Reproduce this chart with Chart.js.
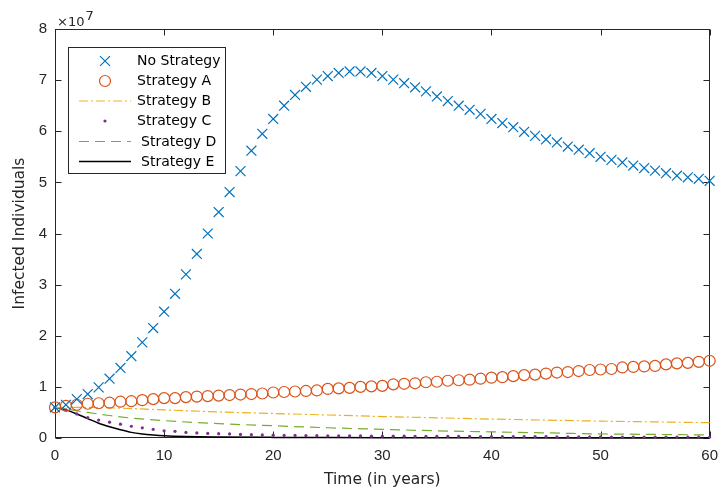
<!DOCTYPE html>
<html>
<head>
<meta charset="utf-8">
<script src="https://cdn.jsdelivr.net/npm/chart.js@4"></script>
<style>
html, body { margin: 0; padding: 0; background: #fff; }
</style>
</head>
<body>
<canvas id="chart" width="727" height="491"></canvas>
<script>
// ====== Data (values in units of 10^7 individuals) ======
const years = [0,1,2,3,4,5,6,7,8,9,10,11,12,13,14,15,16,17,18,19,20,21,22,23,24,25,26,27,28,29,30,
  31,32,33,34,35,36,37,38,39,40,41,42,43,44,45,46,47,48,49,50,51,52,53,54,55,56,57,58,59,60];

const noStrategy = [0.60,0.65,0.76,0.86,0.99,1.16,1.37,1.60,1.87,2.15,2.47,2.82,3.20,3.60,4.00,4.42,4.81,5.22,5.62,5.95,6.24,
  6.50,6.71,6.87,7.01,7.08,7.14,7.17,7.17,7.14,7.08,7.01,6.94,6.86,6.78,6.68,6.59,6.50,6.42,6.34,6.24,
  6.16,6.08,5.99,5.91,5.84,5.78,5.70,5.64,5.57,5.50,5.44,5.39,5.33,5.28,5.23,5.18,5.13,5.10,5.07,5.03];

const strategyA = [0.60,0.63,0.65,0.67,0.68,0.69,0.71,0.72,0.74,0.76,0.78,0.78,0.80,0.81,0.82,0.83,0.84,0.85,0.86,0.87,0.89,
  0.90,0.91,0.92,0.93,0.96,0.97,0.98,1.00,1.01,1.02,1.05,1.06,1.07,1.09,1.10,1.12,1.13,1.14,1.16,1.18,
  1.19,1.21,1.23,1.24,1.26,1.28,1.29,1.31,1.33,1.34,1.35,1.38,1.39,1.40,1.41,1.44,1.46,1.47,1.49,1.51];

const strategyC = [0.60,0.55,0.47,0.40,0.35,0.31,0.27,0.23,0.20,0.17,0.14,0.13,0.11,0.10,0.09,0.085,0.08,0.07,0.065,0.06,0.055,
  0.05,0.05,0.045,0.045,0.04,0.04,0.04,0.04,0.035,0.035,0.035,0.035,0.03,0.03,0.03,0.03,0.03,0.03,0.025,0.025,
  0.025,0.025,0.025,0.025,0.025,0.022,0.022,0.022,0.022,0.022,0.02,0.02,0.02,0.02,0.02,0.02,0.02,0.02,0.02,0.02];

const yearsB = [0,2,5,10,15,20,25,30,35,40,45,50,55,60];
const strategyB = [0.60,0.60,0.59,0.55,0.51,0.48,0.45,0.42,0.395,0.37,0.35,0.33,0.315,0.30];

const yearsD = [0,1,2,3,5,7,10,15,20,25,30,35,40,45,50,55,60];
const strategyD = [0.60,0.57,0.53,0.50,0.44,0.39,0.34,0.28,0.24,0.20,0.17,0.14,0.12,0.10,0.08,0.07,0.06];

const yearsE = [0,1,2,3,4,5,6,7,8,9,10,12,15,20,25,30,40,50,60];
const strategyE = [0.60,0.55,0.47,0.38,0.29,0.22,0.16,0.11,0.08,0.06,0.045,0.03,0.02,0.012,0.008,0.005,0.003,0.002,0.001];

const xTicks = [0,10,20,30,40,50,60];
const yTicks = [0,1,2,3,4,5,6,7,8];

const FONT = '"Liberation Sans", Arial, sans-serif';
const WIDE = '"DejaVu Sans", sans-serif';
const AXIS_COLOR = '#262626';

const pts = (xs, ys) => xs.map((x, i) => ({ x: x, y: ys[i] }));

// ====== Box + inward ticks, exponent label ======
const boxPlugin = {
  id: 'matlabBox',
  beforeDatasetsDraw(chart) {
    const { ctx, chartArea: a, scales } = chart;
    const L = Math.round(a.left) + 0.5, R = Math.round(a.right) - 0.5;
    const T = Math.round(a.top) + 0.5, B = Math.round(a.bottom) - 0.5;
    ctx.save();
    ctx.strokeStyle = AXIS_COLOR;
    ctx.lineWidth = 1;
    ctx.strokeRect(L, T, R - L, B - T);
    ctx.beginPath();
    xTicks.forEach(v => {
      const px = Math.round(scales.x.getPixelForValue(v)) + 0.5;
      ctx.moveTo(px, B); ctx.lineTo(px, B - 6);
      ctx.moveTo(px, T); ctx.lineTo(px, T + 6);
    });
    yTicks.forEach(v => {
      const py = Math.round(scales.y.getPixelForValue(v)) + 0.5;
      ctx.moveTo(L, py); ctx.lineTo(L + 6, py);
      ctx.moveTo(R, py); ctx.lineTo(R - 6, py);
    });
    ctx.stroke();
    // x10^7
    ctx.fillStyle = AXIS_COLOR;
    ctx.textBaseline = 'alphabetic';
    ctx.font = '13px ' + WIDE;
    const base = '\u00d710';
    ctx.fillText(base, a.left + 2, 26);
    const bw = ctx.measureText(base).width;
    ctx.font = '13px ' + WIDE;
    ctx.fillText('7', a.left + 3 + bw, 20);
    ctx.restore();
  }
};

// ====== Legend box inside plot ======
const legendPlugin = {
  id: 'matlabLegend',
  afterDraw(chart) {
    const ctx = chart.ctx;
    const x0 = 68.5, y0 = 47.5, w = 157, h = 126;
    const rows = [61, 81, 101, 121, 141.5, 161.5];
    ctx.save();
    ctx.fillStyle = '#fff';
    ctx.fillRect(x0, y0, w, h);
    ctx.strokeStyle = AXIS_COLOR;
    ctx.lineWidth = 1;
    ctx.strokeRect(x0, y0, w, h);
    chart.data.datasets.forEach((ds, i) => {
      const y = rows[i];
      const cx = 105;
      ctx.setLineDash([]);
      if (ds.showLine === false) {
        if (ds.pointStyle === 'crossRot') {
          const r = ds.pointRadius * 0.7071;
          ctx.strokeStyle = ds.borderColor;
          ctx.lineWidth = ds.pointBorderWidth;
          ctx.beginPath();
          ctx.moveTo(cx - r, y - r); ctx.lineTo(cx + r, y + r);
          ctx.moveTo(cx - r, y + r); ctx.lineTo(cx + r, y - r);
          ctx.stroke();
        } else {
          ctx.beginPath();
          ctx.arc(cx, y, ds.pointRadius, 0, Math.PI * 2);
          if (ds.legendFill) {
            ctx.fillStyle = ds.pointBackgroundColor;
            ctx.fill();
          } else {
            ctx.strokeStyle = ds.borderColor;
            ctx.lineWidth = ds.pointBorderWidth;
            ctx.stroke();
          }
        }
      } else {
        ctx.strokeStyle = ds.borderColor;
        ctx.lineWidth = ds.borderWidth;
        ctx.setLineDash(ds.borderDash || []);
        ctx.beginPath();
        ctx.moveTo(79, y); ctx.lineTo(131, y);
        ctx.stroke();
      }
      ctx.setLineDash([]);
      ctx.fillStyle = '#000';
      ctx.font = '14px ' + WIDE;
      ctx.textBaseline = 'middle';
      ctx.fillText(ds.label, i >= 4 ? 141 : 137, y + 0.5);
    });
    ctx.restore();
  }
};

new Chart(document.getElementById('chart'), {
  type: 'line',
  data: {
    datasets: [
      {
        label: 'No Strategy', data: pts(years, noStrategy), showLine: false,
        pointStyle: 'crossRot', pointRadius: 7, pointBorderWidth: 1.2,
        borderColor: '#0072BD', pointBorderColor: '#0072BD', backgroundColor: '#0072BD'
      },
      {
        label: 'Strategy A', data: pts(years, strategyA), showLine: false,
        pointStyle: 'circle', pointRadius: 5.5, pointBorderWidth: 1.2,
        borderColor: '#D95319', pointBorderColor: '#D95319', pointBackgroundColor: 'rgba(0,0,0,0)'
      },
      {
        label: 'Strategy B', data: pts(yearsB, strategyB),
        borderColor: '#EDB120', borderWidth: 1.2, borderDash: [9, 3, 2, 3],
        pointRadius: 0, cubicInterpolationMode: 'monotone'
      },
      {
        label: 'Strategy C', data: pts(years, strategyC), showLine: false,
        pointStyle: 'circle', pointRadius: 1.6, pointBorderWidth: 0, legendFill: true,
        borderColor: '#7E2F8E', pointBackgroundColor: '#7E2F8E', pointBorderColor: '#7E2F8E'
      },
      {
        label: 'Strategy D', data: pts(yearsD, strategyD),
        borderColor: '#77AC30', borderWidth: 1.2, borderDash: [10, 6],
        pointRadius: 0, cubicInterpolationMode: 'monotone'
      },
      {
        label: 'Strategy E', data: pts(yearsE, strategyE),
        borderColor: '#000000', borderWidth: 1.5,
        pointRadius: 0, cubicInterpolationMode: 'monotone'
      }
    ]
  },
  options: {
    responsive: false,
    animation: false,
    devicePixelRatio: 1,
    clip: false,
    layout: { padding: { left: 0, top: 29, right: 6, bottom: 0 } },
    plugins: { legend: { display: false }, tooltip: { enabled: false } },
    scales: {
      x: {
        type: 'linear', min: 0, max: 60,
        afterFit: s => { s.height = 53; },
        afterBuildTicks: s => { s.ticks = xTicks.map(v => ({ value: v })); },
        grid: { display: false, drawTicks: false },
        border: { display: false },
        ticks: { color: AXIS_COLOR, font: { family: FONT, size: 15 }, padding: 9, maxRotation: 0 },
        title: { display: true, text: 'Time (in years)', color: AXIS_COLOR, font: { family: WIDE, size: 15.5 }, padding: { top: 0, bottom: 2 } }
      },
      y: {
        min: 0, max: 8,
        afterFit: s => { s.width = 55; },
        afterBuildTicks: s => { s.ticks = yTicks.map(v => ({ value: v })); },
        grid: { display: false, drawTicks: false },
        border: { display: false },
        ticks: { color: AXIS_COLOR, font: { family: FONT, size: 15 }, padding: 8 },
        title: { display: true, text: 'Infected Individuals', color: AXIS_COLOR, font: { family: WIDE, size: 15.5 }, padding: { top: 11, bottom: 0 } }
      }
    }
  },
  plugins: [boxPlugin, legendPlugin]
});
</script>
</body>
</html>
